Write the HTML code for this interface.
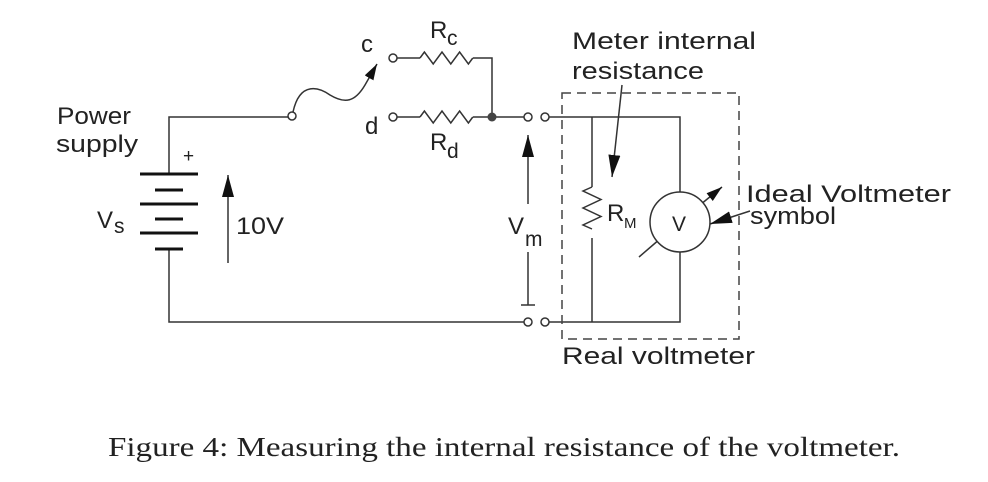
<!DOCTYPE html>
<html><head><meta charset="utf-8"><style>
html,body{margin:0;padding:0;background:#fff;}
svg{display:block;}
text{font-family:"Liberation Sans",sans-serif;fill:#222;}
.w{stroke:#333;stroke-width:1.5;fill:none;}
</style></head><body>
<svg width="988" height="482" viewBox="0 0 988 482" xmlns="http://www.w3.org/2000/svg">
<defs><marker id="ah" viewBox="0 0 22 12" refX="22" refY="6" markerWidth="22" markerHeight="12" markerUnits="userSpaceOnUse" orient="auto"><path d="M0,0 L22,6 L0,12 z" fill="#111"/></marker>
<marker id="as" viewBox="0 0 16 10" refX="16" refY="5" markerWidth="16" markerHeight="10" markerUnits="userSpaceOnUse" orient="auto"><path d="M0,0 L16,5 L0,10 z" fill="#111"/></marker></defs>

<g class="w">
<path d="M288,117 H169 V174"/>
<path d="M169,249 V322 H524"/>
<path d="M397,58 H420"/><path d="M473,58 H492 V117"/>
<path d="M397,117 H420"/><path d="M473,117 H524"/>
<path d="M549,117 H680 V192"/><path d="M680,252 V322 H549"/>
<path d="M592,117 V187"/><path d="M592,238 V322"/>
</g>
<g stroke="#111" stroke-width="3">
<line x1="140" y1="174" x2="198" y2="174"/><line x1="155" y1="190" x2="183" y2="190"/>
<line x1="140" y1="204" x2="198" y2="204"/><line x1="155" y1="219" x2="183" y2="219"/>
<line x1="140" y1="233" x2="198" y2="233"/><line x1="155" y1="249" x2="183" y2="249"/>
</g>
<g class="w">
<path d="M420,58 l4.4,-6 l8.8,12 l8.8,-12 l8.8,12 l8.8,-12 l8.8,12 l4.4,-6"/>
<path d="M420,117 l4.4,-6 l8.8,12 l8.8,-12 l8.8,12 l8.8,-12 l8.8,12 l4.4,-6"/>
<path d="M592,187 l-9,4 l18,8.5 l-18,8.5 l18,8.5 l-18,8.5 l9,4"/>
</g>
<g class="w">
<circle cx="292" cy="116" r="4" fill="#fff"/>
<circle cx="393" cy="58" r="4" fill="#fff"/><circle cx="393" cy="117" r="4" fill="#fff"/>
<circle cx="528" cy="117" r="4" fill="#fff"/><circle cx="545" cy="117" r="4" fill="#fff"/>
<circle cx="528" cy="322" r="4" fill="#fff"/><circle cx="545" cy="322" r="4" fill="#fff"/>
</g>
<circle cx="492" cy="117" r="4.5" fill="#444"/>
<path class="w" d="M293,112 C300,80 320,88 330,95 C345,104 355,102 365,85 L377,64" marker-end="url(#as)"/>
<rect x="562" y="93" width="177" height="246" fill="none" stroke="#444" stroke-width="1.5" stroke-dasharray="9,6"/>
<circle cx="680" cy="222" r="30" class="w"/>
<line x1="639" y1="257" x2="657" y2="241.5" class="w"/>
<line x1="703" y1="202.5" x2="722" y2="187" class="w" marker-end="url(#as)"/>
<line x1="750" y1="211" x2="710" y2="224" class="w" stroke-width="1.2" marker-end="url(#ah)"/>
<line x1="622" y1="85" x2="612" y2="177" class="w" stroke-width="1.2" marker-end="url(#ah)"/>
<line x1="228" y1="263" x2="228" y2="175" class="w" marker-end="url(#ah)"/>
<line x1="528" y1="204" x2="528" y2="135" class="w" marker-end="url(#ah)"/>
<path class="w" d="M528,252 V305 M521,305 H535"/>

<g font-size="24">
<text x="57" y="124" textLength="74" lengthAdjust="spacingAndGlyphs">Power</text>
<text x="56" y="152" textLength="82" lengthAdjust="spacingAndGlyphs">supply</text>
<text x="183" y="162" font-size="19">+</text>
<text x="97" y="228">V</text>
<text x="114" y="233" font-size="21">s</text>
<text x="236" y="234" textLength="48" lengthAdjust="spacingAndGlyphs">10V</text>
<text x="361" y="52">c</text>
<text x="365" y="134">d</text>
<text x="430" y="38">R</text>
<text x="447" y="45" font-size="21">c</text>
<text x="430" y="150">R</text>
<text x="447" y="158" font-size="21">d</text>
<text x="508" y="234">V</text>
<text x="525" y="246" font-size="21">m</text>
<text x="607" y="221">R</text>
<text x="624" y="228" font-size="15">M</text>
<text x="672" y="231" font-size="21">V</text>
<text x="572" y="49" textLength="184" lengthAdjust="spacingAndGlyphs">Meter internal</text>
<text x="572" y="79" textLength="132" lengthAdjust="spacingAndGlyphs">resistance</text>
<text x="746" y="202" textLength="205" lengthAdjust="spacingAndGlyphs">Ideal Voltmeter</text>
<text x="750" y="224" textLength="86" lengthAdjust="spacingAndGlyphs">symbol</text>
<text x="562" y="364" textLength="193" lengthAdjust="spacingAndGlyphs">Real voltmeter</text>
</g>
<text x="108" y="456" font-size="27" textLength="792" lengthAdjust="spacingAndGlyphs" style="font-family:'Liberation Serif',serif">Figure 4: Measuring the internal resistance of the voltmeter.</text>
</svg>
</body></html>
